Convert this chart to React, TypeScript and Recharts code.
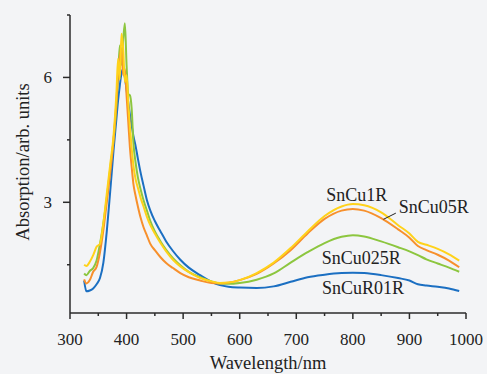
import { LineChart, Line, XAxis, YAxis, ReferenceDot, ReferenceLine } from "recharts";

// wavelength grid (nm) shared by all four spectra
const wavelengths = [
  325, 329, 335, 341, 347, 353, 359, 365, 371, 377,
  382, 385, 388, 391, 394, 397, 400, 403, 406, 409,
  412, 416, 420, 425, 430, 436, 442, 450, 460, 470,
  482, 495, 510, 530, 550, 565, 580, 600, 630, 660,
  690, 720, 750, 780, 800, 820, 850, 880, 900, 915,
  930, 950, 970, 988,
];

const sncuR01R = [
  1.12, 0.86, 0.88, 0.93, 1.03, 1.18, 1.55, 2.3, 3.25, 4.25,
  5.0, 5.45, 5.8, 6.1, 6.2, 6.0, 5.7, 5.4, 5.1, 4.85,
  4.6, 4.35, 4.05, 3.7, 3.4, 3.05, 2.8, 2.55, 2.3, 2.06,
  1.83, 1.62, 1.43, 1.25, 1.09, 1.01, 0.97, 0.95, 0.94, 0.98,
  1.09, 1.2, 1.26, 1.3, 1.31, 1.3, 1.25, 1.18, 1.12, 1.03,
  1.0, 0.97, 0.93, 0.87,
];

const sncu025R = [
  1.29, 1.25, 1.35, 1.42, 1.6, 2.0, 2.5, 3.1, 3.8, 4.5,
  5.3, 6.0, 6.77, 6.3, 6.9, 7.3, 6.3, 5.6, 5.57, 5.25,
  4.45, 3.95, 3.6, 3.3, 3.05, 2.8, 2.55, 2.3, 2.06, 1.86,
  1.66, 1.49, 1.33, 1.2, 1.1, 1.05, 1.04, 1.06, 1.14, 1.29,
  1.55, 1.8, 2.02, 2.17, 2.21, 2.18, 2.06, 1.92, 1.82, 1.73,
  1.63, 1.53, 1.43, 1.33,
];

const sncu05R = [
  1.15, 1.05, 1.13, 1.33, 1.45, 1.8, 2.33, 3.0, 3.7, 4.5,
  5.4, 6.1, 6.5, 6.7, 6.05, 6.2, 5.57, 4.93, 4.3, 3.85,
  3.45, 3.15, 2.9, 2.62, 2.4, 2.2, 2.0, 1.85, 1.68, 1.54,
  1.42, 1.3, 1.2, 1.12, 1.06, 1.05, 1.07, 1.13, 1.28, 1.53,
  1.85, 2.25, 2.6, 2.8, 2.84, 2.8, 2.62, 2.35, 2.15, 1.95,
  1.85, 1.74, 1.6, 1.44,
];

const sncu1R = [
  1.5, 1.47, 1.57, 1.73, 1.93, 2.0, 2.5, 3.2, 3.9, 4.6,
  5.6, 6.45, 5.95, 7.05, 6.69, 5.89, 6.05, 5.4, 4.8, 4.3,
  3.9, 3.55, 3.35, 3.1, 2.9, 2.65, 2.45, 2.25, 2.02, 1.82,
  1.62, 1.46, 1.32, 1.18, 1.1, 1.06, 1.07, 1.13, 1.3, 1.55,
  1.9, 2.3, 2.67, 2.9, 2.96, 2.93, 2.76, 2.45, 2.25, 2.05,
  1.98, 1.88, 1.75, 1.6,
];

const xTicks = [300, 350, 400, 450, 500, 550, 600, 650, 700, 750, 800, 850, 900, 950, 1000];
const xLabels = [300, 400, 500, 600, 700, 800, 900, 1000];
const yTicks = [1.5, 3, 4.5, 6, 7.5];
const yLabels = [3, 6];

const data = wavelengths.map((wl, i) => ({
  wl,
  r01: sncuR01R[i],
  c025: sncu025R[i],
  c05: sncu05R[i],
  c1: sncu1R[i],
}));

const FONT = '"Liberation Serif", "Times New Roman", serif';
const INK = "#2b2b2b";
const TEXT = "#222";
const BG = "#f3f4f6";

const BLUE = "#1b6fc2";
const GREEN = "#8cc63f";
const ORANGE = "#f7902c";
const YELLOW = "#ffd21a";

function XTick(props: any) {
  const { x, y, payload } = props;
  const major = xLabels.includes(payload.value);
  return (
    <g>
      <line x1={x} y1={y} x2={x} y2={y + (major ? 6 : 3)} stroke={INK} strokeWidth={1.5} />
      {major && (
        <text x={x} y={y + 32} textAnchor="middle" fill={TEXT} fontFamily={FONT} fontSize={17}>
          {payload.value}
        </text>
      )}
    </g>
  );
}

function YTick(props: any) {
  const { x, y, payload } = props;
  const major = yLabels.includes(payload.value);
  return (
    <g>
      <line x1={x} y1={y} x2={x - (major ? 7 : 3)} y2={y} stroke={INK} strokeWidth={1.5} />
      {major && (
        <text x={x - 18} y={y + 6} textAnchor="end" fill={TEXT} fontFamily={FONT} fontSize={17}>
          {payload.value}
        </text>
      )}
    </g>
  );
}

function XTitle(props: any) {
  const { x, y, width } = props.viewBox;
  return (
    <text x={x + width / 2} y={y + 56} textAnchor="middle" fill={TEXT} fontFamily={FONT} fontSize={18.5}>
      Wavelength/nm
    </text>
  );
}

function YTitle(props: any) {
  const { x, y, height } = props.viewBox;
  const cx = x + 23;
  const cy = y + height / 2 - 2;
  return (
    <text
      x={cx}
      y={cy}
      transform={`rotate(-90 ${cx} ${cy})`}
      textAnchor="middle"
      dominantBaseline="central"
      fill={TEXT}
      fontFamily={FONT}
      fontSize={18.5}
    >
      Absorption/arb. units
    </text>
  );
}

const seriesLabel = (value: string) => ({
  value,
  position: "center" as const,
  fill: TEXT,
  fontFamily: FONT,
  fontSize: 18,
});

export default function App() {
  return (
    <div style={{ width: 487, height: 374, background: BG }}>
      <style>{`body{margin:0;background:${BG}}`}</style>
      <LineChart
        width={487}
        height={374}
        data={data}
        margin={{ top: 15, right: 21, left: 0, bottom: 0 }}
      >
        <XAxis
          dataKey="wl"
          type="number"
          domain={[300, 1000]}
          ticks={xTicks}
          interval={0}
          height={61}
          tickSize={0}
          tickMargin={0}
          tickLine={false}
          axisLine={{ stroke: INK, strokeWidth: 1.5 }}
          tick={<XTick />}
          label={<XTitle />}
          allowDataOverflow
        />
        <YAxis
          type="number"
          domain={[0.34, 7.5]}
          ticks={yTicks}
          interval={0}
          width={70}
          tickSize={0}
          tickMargin={0}
          tickLine={false}
          axisLine={{ stroke: INK, strokeWidth: 1.5 }}
          tick={<YTick />}
          label={<YTitle />}
          allowDataOverflow
        />
        <Line type="monotone" dataKey="r01" stroke={BLUE} strokeWidth={2} dot={false} isAnimationActive={false} />
        <Line type="monotone" dataKey="c025" stroke={GREEN} strokeWidth={2} dot={false} isAnimationActive={false} />
        <Line type="monotone" dataKey="c05" stroke={ORANGE} strokeWidth={2} dot={false} isAnimationActive={false} />
        <Line type="monotone" dataKey="c1" stroke={YELLOW} strokeWidth={2} dot={false} isAnimationActive={false} />
        <ReferenceLine
          segment={[{ x: 854, y: 2.59 }, { x: 876, y: 2.74 }]}
          stroke="#222"
          strokeWidth={1}
        />
        <ReferenceDot x={807} y={3.19} r={0} fill="none" stroke="none" label={seriesLabel("SnCu1R")} />
        <ReferenceDot x={943} y={2.9} r={0} fill="none" stroke="none" label={seriesLabel("SnCu05R")} />
        <ReferenceDot x={815} y={1.67} r={0} fill="none" stroke="none" label={seriesLabel("SnCu025R")} />
        <ReferenceDot x={818} y={0.95} r={0} fill="none" stroke="none" label={seriesLabel("SnCuR01R")} />
      </LineChart>
    </div>
  );
}
